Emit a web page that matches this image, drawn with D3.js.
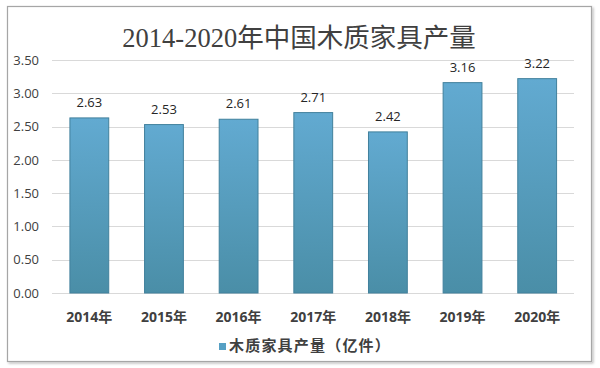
<!DOCTYPE html>
<html><head><meta charset="utf-8">
<script src="https://cdn.jsdelivr.net/npm/d3@7"></script>
<style>html,body{margin:0;padding:0;background:#fff;}</style>
</head><body>
<svg id="c" width="600" height="368"></svg>
<script>
const categories = ["2014年","2015年","2016年","2017年","2018年","2019年","2020年"];
const values = [2.63, 2.53, 2.61, 2.71, 2.42, 3.16, 3.22];
const yTicks = [0, 0.5, 1, 1.5, 2, 2.5, 3, 3.5];
const seriesName = "木质家具产量（亿件）";
const title = "2014-2020年中国木质家具产量";

const svg = d3.select("#c");
const defs = svg.append("defs");
const g1 = defs.append("linearGradient").attr("id","bg").attr("x1",0).attr("y1",0).attr("x2",0).attr("y2",1);
g1.append("stop").attr("offset","0%").attr("stop-color","#62aad1");
g1.append("stop").attr("offset","100%").attr("stop-color","#4a8ea7");
const sh = defs.append("filter").attr("id","sh").attr("x","-5%").attr("y","-5%").attr("width","110%").attr("height","110%");
sh.append("feDropShadow").attr("dx",1.5).attr("dy",1.5).attr("stdDeviation",1.2).attr("flood-color","#000").attr("flood-opacity",0.25);

svg.append("rect").attr("x",7.5).attr("y",6.5).attr("width",584).attr("height",355)
  .attr("fill","#fff").attr("stroke","#a6a6a6").attr("stroke-width",1.2).attr("filter","url(#sh)");

svg.append("text").attr("x",299).attr("y",47).attr("text-anchor","middle")
  .attr("font-family","'Liberation Serif','Noto Sans CJK SC',serif").attr("font-size",26.5)
  .attr("fill","#404040").text(title);

const x = d3.scaleBand().domain(categories).range([52, 574.5]).paddingInner(0.48).paddingOuter(0.24);
const y = d3.scaleLinear().domain([0, 3.5]).range([293, 60]);

const grid = svg.append("g");
grid.selectAll("line").data(yTicks).join("line")
  .attr("x1",52).attr("x2",574).attr("y1",d=>Math.round(y(d))+0.5).attr("y2",d=>Math.round(y(d))+0.5)
  .attr("stroke","#d9d9d9").attr("stroke-width",1);

const yAxis = d3.axisLeft(y).tickValues(yTicks).tickFormat(d3.format(".2f")).tickSize(0).tickPadding(13);
const ya = svg.append("g").attr("transform","translate(52,0)").call(yAxis);
ya.select(".domain").remove();
ya.selectAll("text").attr("font-family","'Open Sans','Noto Sans',sans-serif").attr("font-size",13).attr("fill","#404040");

svg.append("g").selectAll("rect").data(values).join("rect")
  .attr("x",(d,i)=>x(categories[i])).attr("width",x.bandwidth())
  .attr("y",d=>y(d)).attr("height",d=>y(0)-y(d))
  .attr("fill","url(#bg)").attr("stroke","#41809c").attr("stroke-width",1);

svg.append("g").selectAll("text").data(values).join("text")
  .attr("x",(d,i)=>x(categories[i])+x.bandwidth()/2).attr("y",d=>y(d)-11)
  .attr("text-anchor","middle").attr("font-family","'Open Sans','Noto Sans',sans-serif")
  .attr("font-size",13).attr("fill","#262626").text(d=>d3.format(".2f")(d));

const xAxis = d3.axisBottom(x).tickSize(0).tickPadding(19);
const xa = svg.append("g").attr("transform","translate(0,293)").call(xAxis);
xa.select(".domain").remove();
xa.selectAll("text").attr("font-family","'Open Sans','Noto Sans CJK SC',sans-serif").attr("font-size",14)
  .attr("font-weight","bold").attr("fill","#404040");

const lg = svg.append("g").attr("transform","translate(219,347)");
lg.append("rect").attr("x",0).attr("y",-4).attr("width",7).attr("height",7).attr("fill","#56a0c4");
lg.append("text").attr("x",10).attr("y",0).attr("dominant-baseline","middle")
  .attr("font-family","'Noto Sans CJK SC',sans-serif").attr("font-size",15).attr("font-weight","bold")
  .attr("letter-spacing",1.2).attr("fill","#404040").text(seriesName);
</script>
</body></html>
